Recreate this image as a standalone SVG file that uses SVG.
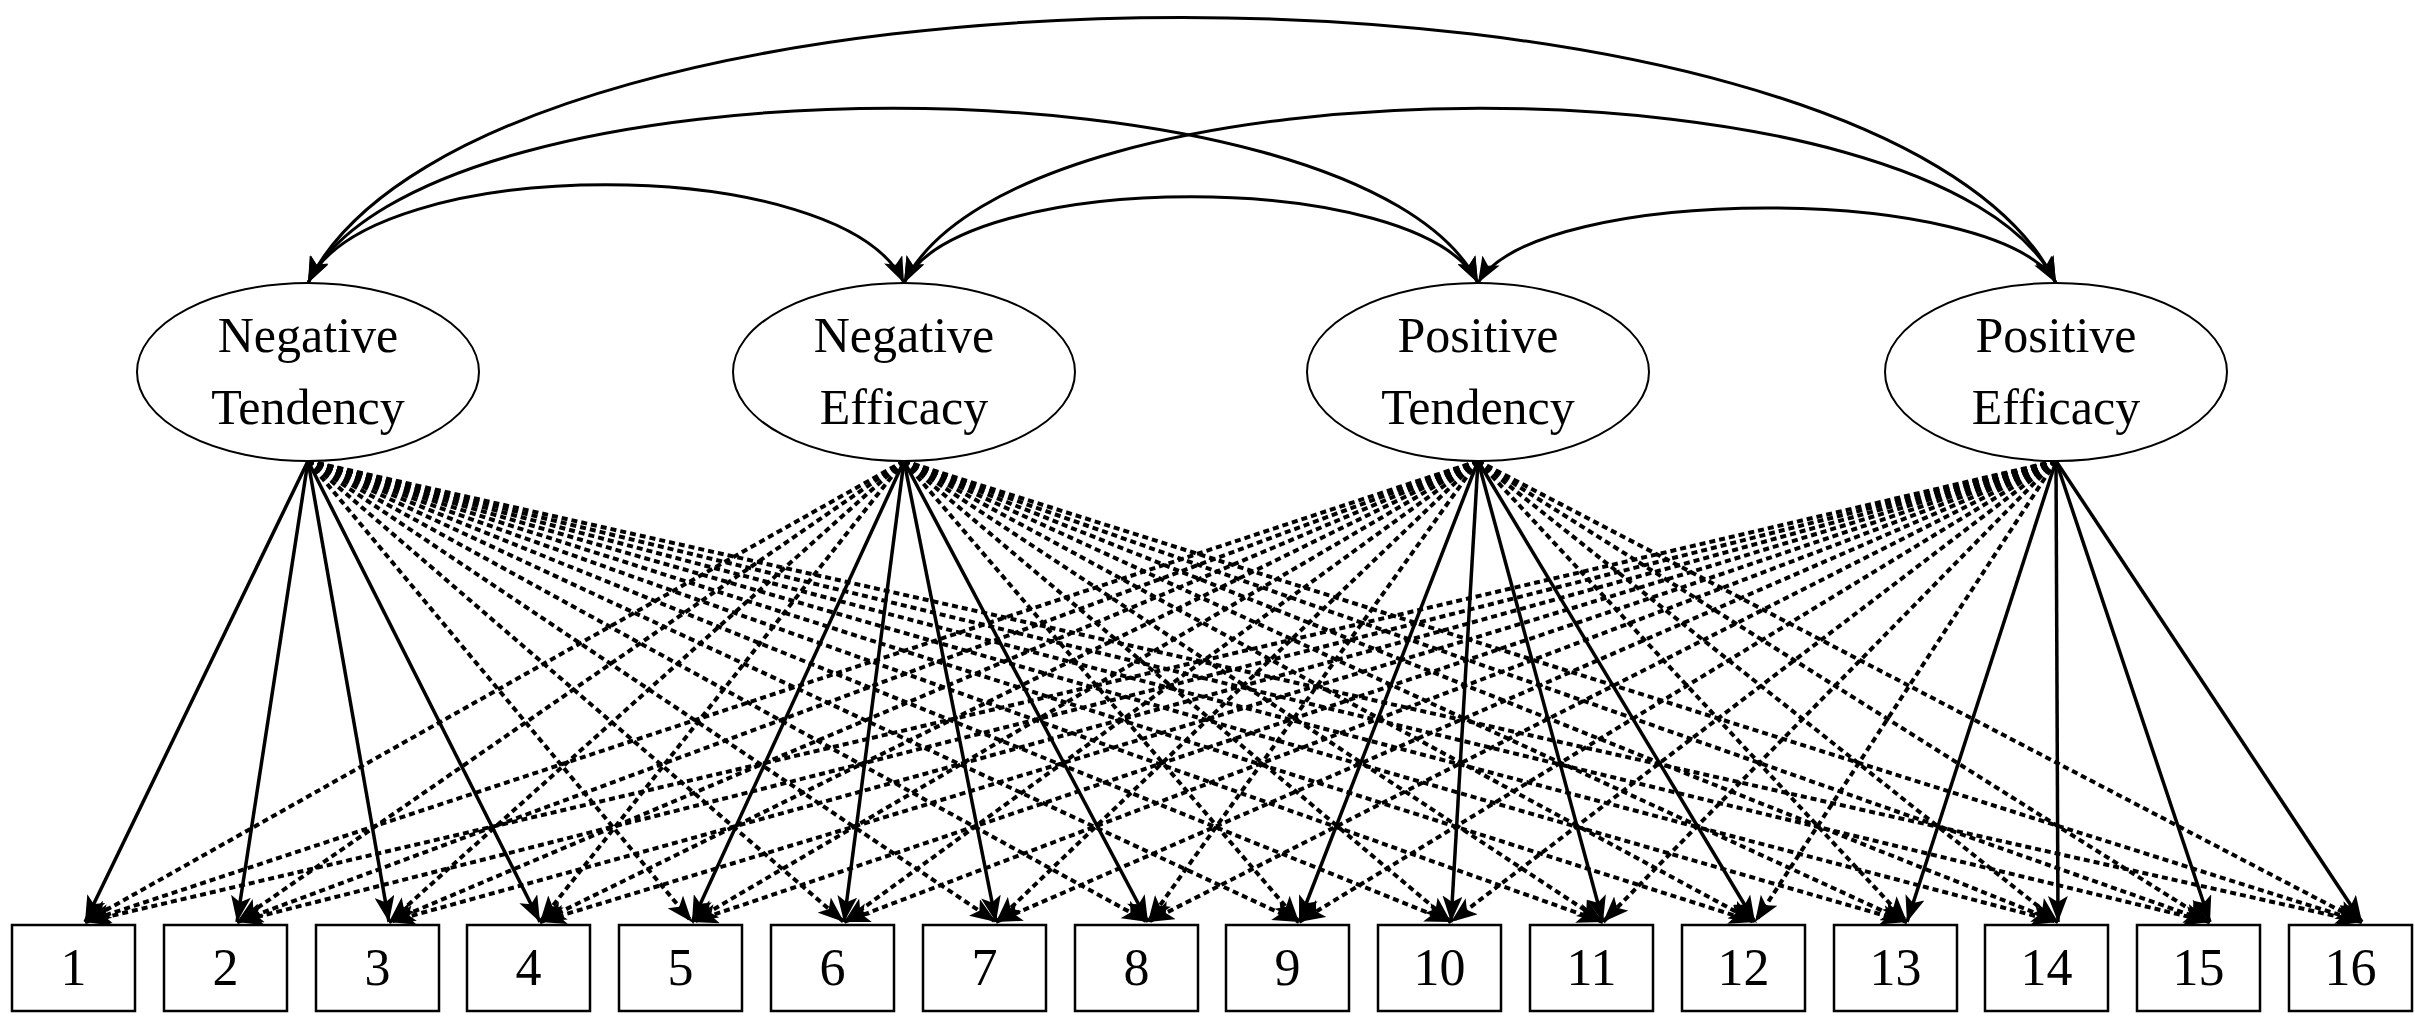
<svg xmlns="http://www.w3.org/2000/svg" width="2415" height="1024" viewBox="0 0 2415 1024">
<style>
.n ellipse{fill:#fff;stroke:#000;stroke-width:2}
.b rect{fill:#fff;stroke:#000;stroke-width:2.5}
text{font-family:"Liberation Serif","Times New Roman",serif;fill:#000;text-anchor:middle}
.lt{font-size:50px}
.bt{font-size:52px}
.d{stroke:#000;stroke-width:4;stroke-dasharray:6 4;fill:none;marker-end:url(#ah)}
.s{stroke:#000;stroke-width:3.5;fill:none;marker-end:url(#ah)}
.c{stroke:#000;stroke-width:3;fill:none;marker-end:url(#ah);marker-start:url(#ah)}
</style>
<defs>
<marker id="ah" markerUnits="userSpaceOnUse" markerWidth="28" markerHeight="20" refX="26" refY="10" orient="auto-start-reverse"><path d="M0,0 L26,10 L0,20 L6,10 z" fill="#000"/></marker>
</defs>
<rect width="2415" height="1024" fill="#fff"/>
<g id="connectors">
<path class="c" d="M308,283 C368,152 844,152 904,283"/>
<path class="c" d="M904,283 C961,168 1421,168 1478,283"/>
<path class="c" d="M1478,283 C1536,183 1998,183 2056,283"/>
<path class="c" d="M308,283 C425,50 1361,50 1478,283"/>
<path class="c" d="M904,283 C1019,50 1941,50 2056,283"/>
<path class="c" d="M308,283 C483,-71 1881,-71 2056,283"/>
<g>
<path class="d" d="M308,461 L692,922"/><path class="d" d="M308,461 L844,922"/><path class="d" d="M308,461 L996,922"/><path class="d" d="M308,461 L1148,922"/><path class="d" d="M308,461 L1299,922"/><path class="d" d="M308,461 L1451,922"/><path class="d" d="M308,461 L1603,922"/><path class="d" d="M308,461 L1755,922"/><path class="d" d="M308,461 L1907,922"/><path class="d" d="M308,461 L2058,922"/><path class="d" d="M308,461 L2210,922"/><path class="d" d="M308,461 L2362,922"/>
<path class="d" d="M904,461 L85,922"/><path class="d" d="M904,461 L237,922"/><path class="d" d="M904,461 L389,922"/><path class="d" d="M904,461 L540,922"/><path class="d" d="M904,461 L1299,922"/><path class="d" d="M904,461 L1451,922"/><path class="d" d="M904,461 L1603,922"/><path class="d" d="M904,461 L1755,922"/><path class="d" d="M904,461 L1907,922"/><path class="d" d="M904,461 L2058,922"/><path class="d" d="M904,461 L2210,922"/><path class="d" d="M904,461 L2362,922"/>
<path class="d" d="M1478,461 L85,922"/><path class="d" d="M1478,461 L237,922"/><path class="d" d="M1478,461 L389,922"/><path class="d" d="M1478,461 L540,922"/><path class="d" d="M1478,461 L692,922"/><path class="d" d="M1478,461 L844,922"/><path class="d" d="M1478,461 L996,922"/><path class="d" d="M1478,461 L1148,922"/><path class="d" d="M1478,461 L1907,922"/><path class="d" d="M1478,461 L2058,922"/><path class="d" d="M1478,461 L2210,922"/><path class="d" d="M1478,461 L2362,922"/>
<path class="d" d="M2056,461 L85,922"/><path class="d" d="M2056,461 L237,922"/><path class="d" d="M2056,461 L389,922"/><path class="d" d="M2056,461 L540,922"/><path class="d" d="M2056,461 L692,922"/><path class="d" d="M2056,461 L844,922"/><path class="d" d="M2056,461 L996,922"/><path class="d" d="M2056,461 L1148,922"/><path class="d" d="M2056,461 L1299,922"/><path class="d" d="M2056,461 L1451,922"/><path class="d" d="M2056,461 L1603,922"/><path class="d" d="M2056,461 L1755,922"/>
</g>
<g>
<path class="s" d="M308,461 L85,922"/><path class="s" d="M308,461 L237,922"/><path class="s" d="M308,461 L389,922"/><path class="s" d="M308,461 L540,922"/>
<path class="s" d="M904,461 L692,922"/><path class="s" d="M904,461 L844,922"/><path class="s" d="M904,461 L996,922"/><path class="s" d="M904,461 L1148,922"/>
<path class="s" d="M1478,461 L1299,922"/><path class="s" d="M1478,461 L1451,922"/><path class="s" d="M1478,461 L1603,922"/><path class="s" d="M1478,461 L1755,922"/>
<path class="s" d="M2056,461 L1907,922"/><path class="s" d="M2056,461 L2058,922"/><path class="s" d="M2056,461 L2210,922"/><path class="s" d="M2056,461 L2362,922"/>
</g>
</g>
<g id="NT" class="n"><ellipse cx="308" cy="372" rx="171" ry="89"/><text class="lt" x="308" y="352">Negative</text><text class="lt" x="308" y="424">Tendency</text></g>
<g id="NE" class="n"><ellipse cx="904" cy="372" rx="171" ry="89"/><text class="lt" x="904" y="352">Negative</text><text class="lt" x="904" y="424">Efficacy</text></g>
<g id="PT" class="n"><ellipse cx="1478" cy="372" rx="171" ry="89"/><text class="lt" x="1478" y="352">Positive</text><text class="lt" x="1478" y="424">Tendency</text></g>
<g id="PE" class="n"><ellipse cx="2056" cy="372" rx="171" ry="89"/><text class="lt" x="2056" y="352">Positive</text><text class="lt" x="2056" y="424">Efficacy</text></g>
<g id="box1" class="b"><rect x="12" y="925" width="123" height="86"/><text class="bt" x="73.5" y="985">1</text></g>
<g id="box2" class="b"><rect x="164" y="925" width="123" height="86"/><text class="bt" x="225.5" y="985">2</text></g>
<g id="box3" class="b"><rect x="316" y="925" width="123" height="86"/><text class="bt" x="377.5" y="985">3</text></g>
<g id="box4" class="b"><rect x="467" y="925" width="123" height="86"/><text class="bt" x="528.5" y="985">4</text></g>
<g id="box5" class="b"><rect x="619" y="925" width="123" height="86"/><text class="bt" x="680.5" y="985">5</text></g>
<g id="box6" class="b"><rect x="771" y="925" width="123" height="86"/><text class="bt" x="832.5" y="985">6</text></g>
<g id="box7" class="b"><rect x="923" y="925" width="123" height="86"/><text class="bt" x="984.5" y="985">7</text></g>
<g id="box8" class="b"><rect x="1075" y="925" width="123" height="86"/><text class="bt" x="1136.5" y="985">8</text></g>
<g id="box9" class="b"><rect x="1226" y="925" width="123" height="86"/><text class="bt" x="1287.5" y="985">9</text></g>
<g id="box10" class="b"><rect x="1378" y="925" width="123" height="86"/><text class="bt" x="1439.5" y="985">10</text></g>
<g id="box11" class="b"><rect x="1530" y="925" width="123" height="86"/><text class="bt" x="1591.5" y="985">11</text></g>
<g id="box12" class="b"><rect x="1682" y="925" width="123" height="86"/><text class="bt" x="1743.5" y="985">12</text></g>
<g id="box13" class="b"><rect x="1834" y="925" width="123" height="86"/><text class="bt" x="1895.5" y="985">13</text></g>
<g id="box14" class="b"><rect x="1985" y="925" width="123" height="86"/><text class="bt" x="2046.5" y="985">14</text></g>
<g id="box15" class="b"><rect x="2137" y="925" width="123" height="86"/><text class="bt" x="2198.5" y="985">15</text></g>
<g id="box16" class="b"><rect x="2289" y="925" width="123" height="86"/><text class="bt" x="2350.5" y="985">16</text></g>
</svg>
